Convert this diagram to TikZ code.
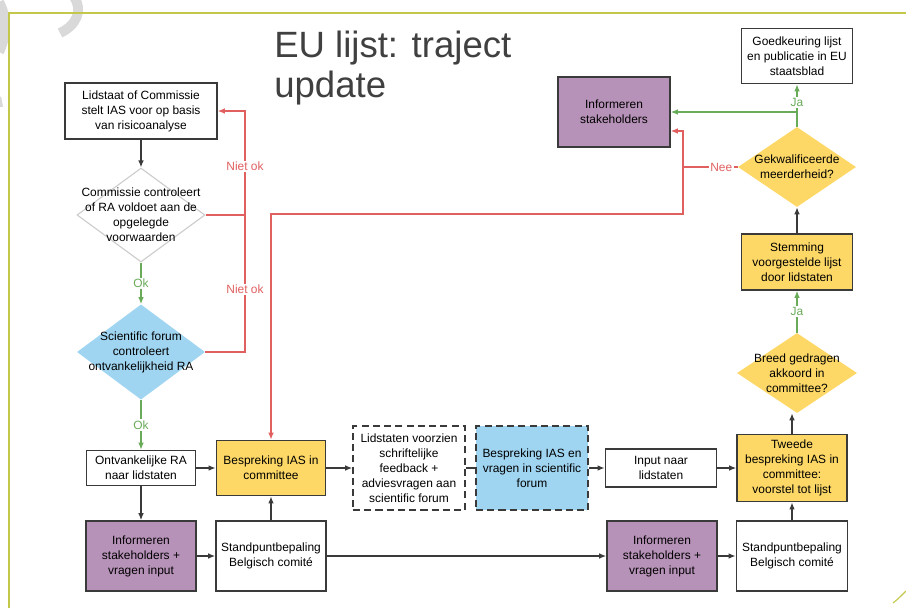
\documentclass[tikz,border=0pt]{standalone}
\usepackage{fontspec}
\setmainfont{Liberation Sans}
\usetikzlibrary{shapes.geometric,arrows.meta}
\definecolor{boxline}{HTML}{3A3A3A}
\definecolor{paars}{HTML}{B792B8}
\definecolor{geel}{HTML}{FDD866}
\definecolor{blauw}{HTML}{A0D5F2}
\definecolor{rood}{HTML}{E06060}
\definecolor{groen}{HTML}{6AAB5A}
\definecolor{kader}{HTML}{C3C84A}
\definecolor{titel}{HTML}{404040}
\newcommand{\klein}{\fontsize{8.5}{10.7}\selectfont}
\tikzset{
  box/.style={rectangle, draw=boxline, line width=1.1pt, align=center, inner sep=1pt, font=\klein},
  stippel/.style={box, dash pattern=on 5pt off 3pt},
  ruit/.style={diamond, inner sep=0pt},
  ruittekst/.style={align=center, font=\klein, inner sep=0pt},
  pijl/.style={-{Latex[length=5pt,width=4pt]}, line width=0.9pt, boxline},
  rpijl/.style={-{Latex[length=5pt,width=4pt]}, line width=0.8pt, rood},
  gpijl/.style={-{Latex[length=5pt,width=4pt]}, line width=0.8pt, groen},
  rlbl/.style={fill=white, text=rood, inner sep=1pt, font=\klein},
  glbl/.style={fill=white, text=groen, inner sep=1pt, font=\klein}
}
\begin{document}
\begin{tikzpicture}[x=0.025cm, y=-0.025cm]
        \useasboundingbox (0,0) rectangle (906,608);
        \draw[black!15, line width=7pt] (74,-3) .. controls (83,10) and (77,25) .. (60,33);
        \draw[black!15, line width=7pt] (-1,2) .. controls (8,18) and (6,38) .. (-1,52);
        \draw[black!15, line width=3pt] (-1,97) -- (1,107);
        \draw[kader, line width=0.8pt] (9,608) -- (9,13) -- (906,13);
        \draw[kader, line width=0.8pt] (893,603) .. controls (899,598) .. (906,591);
        \node[anchor=north west, inner sep=0pt, align=left, text=titel, font=\fontsize{26}{28.5}\selectfont] (titel) at (274,31) {EU lijst: traject\\update};
        \node[box, minimum width=3.8cm, minimum height=1.4cm] (lidstaat) at (141,111) {Lidstaat of Commissie\\stelt IAS voor op basis\\van risicoanalyse};
        \node[ruit, draw=black!20, line width=0.8pt, minimum width=3.2cm, minimum height=2.35cm, label={[ruittekst]center:{Commissie controleert\\of RA voldoet aan de\\opgelegde\\voorwaarden}}] (controle) at (141,215) {};
        \node[ruit, fill=blauw, minimum width=3.2cm, minimum height=2.38cm, label={[ruittekst]center:{Scientific forum\\controleert\\ontvankelijkheid RA}}] (forumcheck) at (141,352) {};
        \node[box, minimum width=2.73cm, minimum height=0.88cm] (ontvankelijk) at (141,468) {Ontvankelijke RA\\naar lidstaten};
        \node[box, fill=paars, minimum width=2.75cm, minimum height=1.75cm] (info1) at (141,556) {Informeren\\stakeholders +\\vragen input};
        \node[box, fill=geel, minimum width=2.73cm, minimum height=1.38cm] (bespreking) at (271,468) {Bespreking IAS in\\committee};
        \node[box, minimum width=2.75cm, minimum height=1.75cm] (standpunt1) at (271,556) {Standpuntbepaling\\Belgisch comité};
        \node[stippel, minimum width=2.8cm, minimum height=2.1cm] (feedback) at (409,468) {Lidstaten voorzien\\schriftelijke\\feedback +\\adviesvragen aan\\scientific forum};
        \node[stippel, fill=blauw, minimum width=2.8cm, minimum height=2.1cm] (forum) at (532,468) {Bespreking IAS en\\vragen in scientific\\forum};
        \node[box, minimum width=2.78cm, minimum height=0.95cm] (input) at (661,468) {Input naar\\lidstaten};
        \node[box, fill=geel, minimum width=2.75cm, minimum height=1.68cm] (tweede) at (792,468) {Tweede\\bespreking IAS in\\committee:\\voorstel tot lijst};
        \node[box, fill=paars, minimum width=2.75cm, minimum height=1.75cm] (info2) at (662,556) {Informeren\\stakeholders +\\vragen input};
        \node[box, minimum width=2.78cm, minimum height=1.75cm] (standpunt2) at (792,556) {Standpuntbepaling\\Belgisch comité};
        \node[ruit, fill=geel, minimum width=3cm, minimum height=2cm, label={[ruittekst]center:{Breed gedragen\\akkoord in\\committee?}}] (akkoord) at (797,373) {};
        \node[box, fill=geel, minimum width=2.78cm, minimum height=1.4cm] (stemming) at (797,262) {Stemming\\voorgestelde lijst\\door lidstaten};
        \node[ruit, fill=geel, minimum width=2.95cm, minimum height=2cm, label={[ruittekst]center:{Gekwalificeerde\\meerderheid?}}] (meerderheid) at (797,167) {};
        \node[box, minimum width=2.78cm, minimum height=1.38cm] (goedkeuring) at (797,56) {Goedkeuring lijst\\en publicatie in EU\\staatsblad};
        \node[box, fill=paars, minimum width=2.8cm, minimum height=1.75cm] (info3) at (614,112) {Informeren\\stakeholders};
        \coordinate (nietok) at (245,352);
        \coordinate (nee) at (683,167);
        \coordinate (terug) at (683,214);
        \draw[pijl] (lidstaat.south) -- (controle.north);
        \draw[gpijl] (controle.south) -- node[glbl]{Ok} (forumcheck.north);
        \draw[gpijl] (forumcheck.south) -- node[glbl]{Ok} (ontvankelijk.north);
        \draw[rood, line width=0.8pt] (controle.east) -- (controle.east -| nietok);
        \draw[rpijl] (forumcheck.east) -- (nietok) |- node[rlbl, pos=0.13]{Niet ok} node[rlbl, pos=0.385]{Niet ok} (lidstaat.east);
        \draw[pijl] (ontvankelijk) -- (bespreking);
        \draw[pijl] (ontvankelijk) -- (info1);
        \draw[pijl] (info1) -- (standpunt1);
        \draw[pijl] (standpunt1) -- (bespreking);
        \draw[pijl] (standpunt1) -- (info2);
        \draw[pijl] (bespreking) -- (feedback);
        \draw[boxline, line width=0.9pt] (feedback) -- (forum);
        \draw[pijl] (forum) -- (input);
        \draw[pijl] (input) -- (tweede);
        \draw[pijl] (info2) -- (standpunt2);
        \draw[pijl] (standpunt2) -- (tweede);
        \draw[pijl] (tweede.north) -- (tweede.north |- akkoord.south);
        \draw[gpijl] (akkoord.north) -- node[glbl]{Ja} (stemming.south);
        \draw[pijl] (stemming.north) -- (meerderheid.south);
        \draw[gpijl] (meerderheid.north) -- node[glbl, pos=0.57]{Ja} (goedkeuring.south);
        \draw[gpijl] (meerderheid.north) |- (info3.east);
        \draw[rpijl] (meerderheid.west) -- node[rlbl, pos=0.3]{Nee} (nee) |- ([yshift=-0.475cm]info3.east);
        \draw[rpijl] (nee) -- (terug) -| (bespreking.north);
    \end{tikzpicture}
\end{document}
